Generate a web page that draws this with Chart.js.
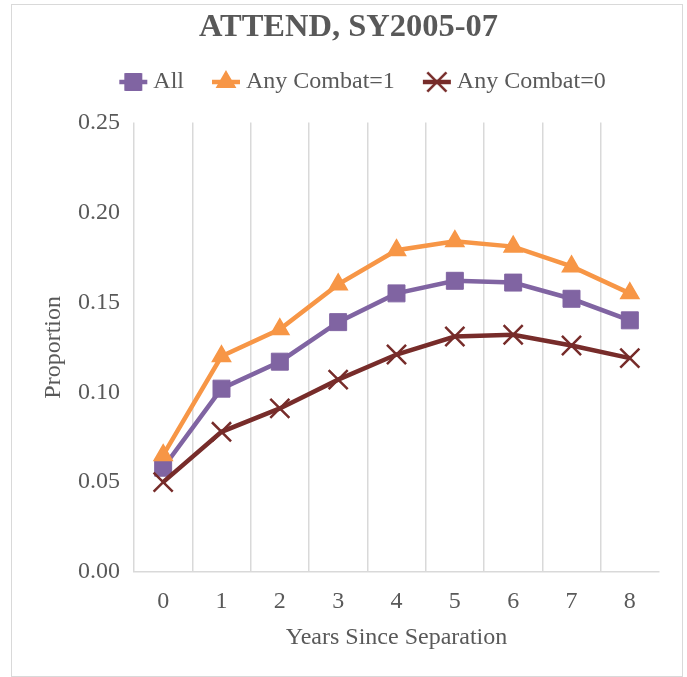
<!DOCTYPE html>
<html>
<head>
<meta charset="utf-8">
<script src="https://cdn.jsdelivr.net/npm/chart.js@4/dist/chart.umd.min.js"></script>
<style>
    html, body { margin: 0; padding: 0; background: #fff; }
    #wrap { position: relative; width: 687px; height: 677px; }
    #frame { position: absolute; left: 11px; top: 4px; width: 672px; height: 673px; box-sizing: border-box; border: 1px solid #d9d9d9; pointer-events: none; }
</style>
</head>
<body>
<div id="wrap">
    <canvas id="grafico" width="687" height="677"></canvas>
    <div id="frame"></div>
</div>
<script>
// dados
const anos = ['0', '1', '2', '3', '4', '5', '6', '7', '8'];
const todos = [0.058, 0.102, 0.117, 0.139, 0.155, 0.162, 0.161, 0.152, 0.140];
const combate1 = [0.065, 0.120, 0.135, 0.160, 0.179, 0.184, 0.181, 0.170, 0.155];
const combate0 = [0.050, 0.078, 0.091, 0.107, 0.121, 0.131, 0.132, 0.126, 0.119];
const ticksY = [0, 0.05, 0.10, 0.15, 0.20, 0.25];

const cinza = '#595959';
const grade = '#d9d9d9';
const fonte = "'Liberation Serif', 'Times New Roman', serif";

Chart.defaults.font.family = fonte;
Chart.defaults.color = cinza;

// ícone da legenda: linha curta + marcador (estilo Excel)
function iconeLegenda(estilo, cor, raio, borda) {
    const c = document.createElement('canvas');
    c.width = 34;
    c.height = 26;
    const g = c.getContext('2d');
    g.strokeStyle = cor;
    g.fillStyle = cor;
    g.lineWidth = 4.5;
    g.beginPath();
    g.moveTo(3, 13);
    g.lineTo(31, 13);
    g.stroke();
    g.lineWidth = borda;
    Chart.helpers.drawPoint(g, { pointStyle: estilo, radius: raio, borderWidth: borda }, 17, 13);
    return c;
}

// desloca um bloco (título/legenda) na hora de desenhar
function deslocar(bloco, dx, dy) {
    const drawOrig = bloco.draw;
    bloco.draw = function () {
        const c = this.ctx;
        c.save();
        c.translate(dx, dy);
        drawOrig.apply(this, arguments);
        c.restore();
    };
}

// empurra legenda e título e abre espaço abaixo da legenda
const ajusteLegenda = {
    id: 'ajusteLegenda',
    beforeInit(chart) {
        const lg = chart.legend;
        const fitOrig = lg.fit;
        lg.fit = function () {
            fitOrig.call(this);
            this.height += 7.4;
        };
        deslocar(lg, 30, -11.2);
        if (chart.titleBlock) {
            deslocar(chart.titleBlock, 13, 0);
        }
    }
};

const ctx = document.getElementById('grafico').getContext('2d');

new Chart(ctx, {
    type: 'line',
    data: {
        labels: anos,
        datasets: [
            {
                label: 'All',
                data: todos,
                borderColor: '#8064A2',
                backgroundColor: '#8064A2',
                borderWidth: 4.5,
                pointStyle: 'rect',
                pointRadius: 12,
                pointBorderWidth: 1,
                pointBorderColor: '#8064A2',
                order: 2,
                icone: iconeLegenda('rect', '#8064A2', 12, 1)
            },
            {
                label: 'Any Combat=1',
                data: combate1,
                borderColor: '#F79646',
                backgroundColor: '#F79646',
                borderWidth: 4.5,
                pointStyle: 'triangle',
                pointRadius: 10.5,
                pointBorderWidth: 1.5,
                pointBorderColor: '#F79646',
                order: 1,
                icone: iconeLegenda('triangle', '#F79646', 10.5, 1.5)
            },
            {
                label: 'Any Combat=0',
                data: combate0,
                borderColor: '#772C2A',
                backgroundColor: '#772C2A',
                borderWidth: 4.5,
                pointStyle: 'crossRot',
                pointRadius: 13.5,
                pointBorderWidth: 2.5,
                pointBorderColor: '#772C2A',
                order: 0,
                icone: iconeLegenda('crossRot', '#772C2A', 13.5, 2.5)
            }
        ]
    },
    options: {
        responsive: false,
        animation: false,
        devicePixelRatio: 1,
        layout: {
            padding: { left: 12, right: 28, top: 0, bottom: 5 }
        },
        elements: {
            line: { tension: 0 }
        },
        plugins: {
            title: {
                display: true,
                text: 'ATTEND, SY2005-07',
                color: cinza,
                font: { size: 32.5, weight: 'bold' },
                padding: { top: 8.2, bottom: 0 }
            },
            legend: {
                display: true,
                position: 'top',
                labels: {
                    usePointStyle: true,
                    pointStyleWidth: 16,
                    padding: 34,
                    color: cinza,
                    font: { size: 24 },
                    sort: (a, b) => a.datasetIndex - b.datasetIndex,
                    generateLabels: function (chart) {
                        const itens = Chart.defaults.plugins.legend.labels.generateLabels(chart);
                        itens.forEach(function (it) {
                            it.pointStyle = chart.data.datasets[it.datasetIndex].icone;
                        });
                        return itens;
                    }
                }
            },
            tooltip: { enabled: false }
        },
        scales: {
            x: {
                offset: true,
                title: {
                    display: true,
                    text: 'Years Since Separation',
                    color: cinza,
                    font: { size: 24 },
                    padding: { top: 0, bottom: 20 }
                },
                grid: {
                    display: true,
                    offset: true,
                    drawTicks: false,
                    lineWidth: 1.5,
                    color: (c) => c.type === 'tick' ? grade : 'rgba(0,0,0,0)'
                },
                border: { display: true, color: grade, width: 1.5 },
                ticks: {
                    color: cinza,
                    padding: 15,
                    font: { size: 24 }
                },
                afterFit: (s) => { s.height = 100; }
            },
            y: {
                min: 0,
                max: 0.25,
                title: {
                    display: true,
                    text: 'Proportion',
                    color: cinza,
                    font: { size: 24 },
                    padding: { top: 27, bottom: 0 }
                },
                grid: { display: false, drawTicks: false },
                border: { display: false },
                afterBuildTicks: (s) => { s.ticks = ticksY.map((v) => ({ value: v })); },
                ticks: {
                    color: cinza,
                    padding: 14,
                    font: { size: 24 },
                    callback: (v) => Number(v).toFixed(2)
                },
                afterFit: (s) => { s.width = 122; }
            }
        }
    },
    plugins: [ajusteLegenda]
});
</script>
</body>
</html>
